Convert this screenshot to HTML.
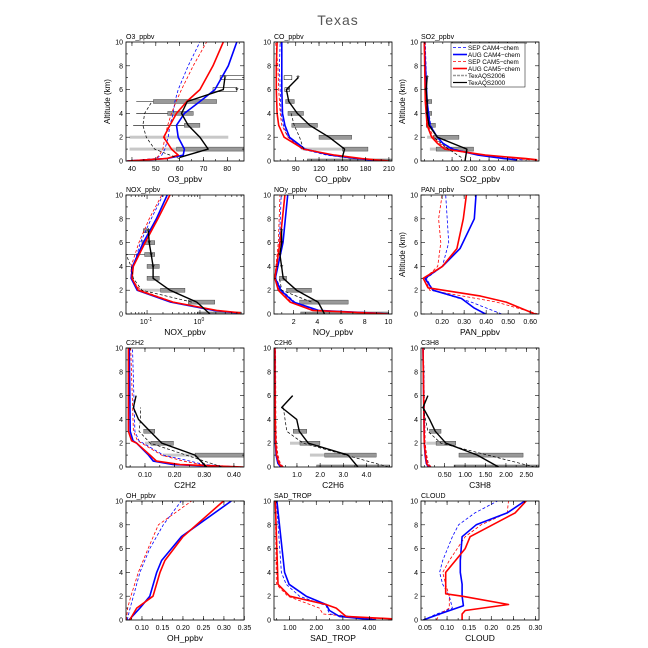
<!DOCTYPE html>
<html><head><meta charset="utf-8">
<style>
html,body{margin:0;padding:0;background:#fff;}
svg{display:block;font-family:"Liberation Sans",sans-serif;}
</style></head>
<body>
<svg id="chart" width="648" height="648" viewBox="0 0 648 648" xmlns="http://www.w3.org/2000/svg">
<text x="338" y="25" font-size="14" fill="#555" text-anchor="middle" letter-spacing="1">Texas</text>
</svg>
<script>
// ---------- data (altitude km vs mixing ratio) ----------
const o3Alt=[0,0.2,0.5,1,2,3,4,5,6,8,10];
const o3Sep4=[38,50,52.5,53.8,55.2,55.9,57.3,58,59.4,63.6,68.5];
const o3Sep5=[38,50,51.5,53,53.8,55,56.6,58.5,60.8,65.7,71.3];
const o3Aug4=[38,54.5,61.5,62,59.4,58.7,62,68.5,74.8,80.4,84];
const o3Aug5=[38,54.5,59.4,56.6,53.3,55.9,58.7,63,68.5,74,78.3];
const o3ObsAlt=[0.3,1,2,3,4,5,6,7];
const o3Obs2000=[60,72,68.5,63.6,60.8,63.2,78.3,79];
const o3Obs06Alt=[0.2,0.5,1,2,3,4,5];
const o3Obs2006=[60,55.9,49.5,46,44.6,45.3,48.4];

const coAlt=[0,0.2,0.5,1,2,3,4,6,8,10];
const coAug5=[210,175,140,100,75,68,66,65,65,66];
const coSep5=[205,170,135,100,80,72,70,68,67,64];
const coAug4=[200,170,135,102,82,76,73,72,72,72];
const coSep4=[200,165,130,98,80,74,71,70,69,70];
const coObsAlt=[0.3,1,2,3,4,5,6,7];
const coObs2000=[150,153,133,108,92,81,78,93];
const coObs06Alt=[1,2,3,4];
const coObs2006=[100,95,88,84];

const so2Alt=[0.1,0.2,0.5,1,1.5,2,3,5,10];
const so2Aug5=[5.6,5.0,2.8,0.6,0.2,-0.1,-0.35,-0.45,-0.5];
const so2Sep5=[5.2,4.5,2.7,0.8,0.3,0.0,-0.3,-0.4,-0.45];
const so2Aug4=[4.5,3.8,2.4,1.0,0.5,0.2,-0.2,-0.35,-0.5];
const so2Sep4=[4.8,4.0,2.6,1.1,0.5,0.2,-0.15,-0.35,-0.45];
const so2ObsAlt=[0,1,2,3,4,5,6,7];
const so2Obs2000=[1.7,1.8,0.2,-0.25,-0.35,-0.35,-0.4,-0.35];
const so2Obs06Alt=[0.3,1,2];
const so2Obs2006=[1.5,0.8,0.0];

const noxAlt=[0.1,0.3,1,2,3,4,6,8,10];
const noxAug5=[5.7,2.06,0.31,0.068,0.052,0.055,0.092,0.16,0.27];
const noxAug4=[5,1.8,0.28,0.065,0.05,0.053,0.085,0.15,0.24];
const noxSep4=[5.5,1.9,0.3,0.07,0.05,0.055,0.075,0.12,0.2];
const noxSep5=[6,2,0.32,0.075,0.05,0.05,0.07,0.11,0.19];
const noxObsAlt=[0,1,2,3,4,5,6,7];
const noxObs2000=[1.55,0.87,0.27,0.13,0.13,0.12,0.11,0.106];
const noxObs06Alt=[1,2,3,4,5];
const noxObs2006=[0.7,0.08,0.055,0.05,0.04];

const noyAlt=[0,0.1,0.3,1,2,3,6,10];
const noyAug5=[10,8,3.6,1.7,0.7,0.42,0.84,1.26];
const noyAug4=[10,8.3,4.1,2.0,0.9,0.45,1.1,1.5];
const noySep5=[10,7.5,3.5,1.8,0.8,0.4,0.7,0.85];
const noySep4=[10,7.8,3.8,2.1,1.0,0.5,0.8,0.95];
const noyObsAlt=[0,1,2,3,4,5,6,7];
const noyObs2000=[4.6,4.06,2.24,1.12,0.98,0.84,0.98,0.98];
const noyObs06Alt=[1,2,3];
const noyObs2006=[3.5,1.0,0.8];

const panAug4Alt=[0,0.5,1.3,2,3,4,5.5,8,10];
const panAug4=[0.397,0.346,0.288,0.158,0.122,0.201,0.281,0.346,0.354];
const panAug5Alt=[0,1,1.5,2.2,3,4,5.5,8,10];
const panAug5=[0.622,0.491,0.375,0.136,0.114,0.201,0.267,0.296,0.31];
const panSepAlt=[0,1,2,3,4,6,8,10];
const panSep4=[0.47,0.332,0.158,0.129,0.201,0.23,0.223,0.216];
const panSep5=[0.636,0.448,0.143,0.122,0.18,0.194,0.184,0.2];

const c2h2Alt=[0,0.2,0.5,1,2,2.2,3,10];
const c2h2Aug5=[0.431,0.218,0.139,0.117,0.072,0.055,0.044,0.044];
const c2h2Aug4=[0.397,0.196,0.128,0.112,0.072,0.06,0.05,0.047];
const c2h2Sep4=[0.42,0.3,0.252,0.162,0.094,0.08,0.066,0.058];
const c2h2Sep5=[0.409,0.29,0.229,0.156,0.089,0.075,0.061,0.052];
const c2h2ObsAlt=[0,1,2,3,4,5,6];
const c2h2Obs2000=[0.308,0.269,0.157,0.117,0.078,0.061,0.07];
const c2h2Obs06Alt=[0,2,3,4,5];
const c2h2Obs2006=[0.36,0.118,0.08,0.085,0.085];

const c2h6Alt=[0,0.3,1,2,4,10];
const c2h6Aug4=[0.3,0.18,0.1,0.07,0.06,0.05];
const c2h6Aug5=[0.35,0.22,0.12,0.08,0.06,0.05];
const c2h6Sep4=[0.38,0.25,0.15,0.1,0.08,0.07];
const c2h6Sep5=[0.42,0.28,0.18,0.12,0.09,0.08];
const c2h6ObsAlt=[0,1,2,3,4,5,6];
const c2h6Obs2000=[3.63,3.2,1.49,1.1,0.99,0.34,0.815];
const c2h6Obs06Alt=[0,2,3,5];
const c2h6Obs2006=[4.95,1.27,0.56,0.41];

const c3h8Alt=[0,0.3,1,2,10];
const c3h8Aug4=[0.1,0.05,0.02,0.0,-0.03];
const c3h8Aug5=[0.12,0.06,0.03,0.0,-0.03];
const c3h8Sep4=[0.15,0.08,0.05,0.02,-0.02];
const c3h8Sep5=[0.17,0.1,0.06,0.02,-0.02];
const c3h8ObsAlt=[0,1,2,3,4,5,6];
const c3h8Obs2000=[1.82,1.3,0.53,0.27,0.13,-0.03,0.09];
const c3h8Obs06Alt=[0,2,3,5];
const c3h8Obs2006=[2.7,0.41,0.09,-0.03];

const ohAlt=[0,1,2,4,5,7,10];
const ohAug5=[0.07,0.087,0.127,0.144,0.156,0.2,0.299];
const ohAug4=[0.068,0.095,0.119,0.136,0.148,0.196,0.318];
const ohSepAlt=[0,1,2,4,6,8,10];
const ohSep4=[0.064,0.071,0.079,0.095,0.119,0.152,0.196];
const ohSep5=[0.062,0.065,0.073,0.091,0.115,0.14,0.221];

const sadAug4Alt=[0,0.3,0.8,1.3,2,3,4,10];
const sadAug4=[4.25,2.87,2.5,2.37,1.62,0.98,0.81,0.52];
const sadAug5Alt=[0.1,0.3,1,1.3,2,3,10];
const sadAug5=[4.85,3.12,2.75,2.37,1.0,0.56,0.46];
const sadSep4Alt=[0.1,0.5,1.2,2,3,4,10];
const sadSep4=[4.12,2.5,2.37,1.37,0.87,0.69,0.5];
const sadSep5Alt=[0.1,0.5,1,2,3,10];
const sadSep5=[4.25,2.25,2.12,0.93,0.5,0.46];

const cldAug4Alt=[0,0.5,1.2,2,3,4,5,7,8,9,10];
const cldAug4=[0.046,0.083,0.137,0.134,0.134,0.13,0.13,0.134,0.166,0.236,0.276];
const cldAug5Alt=[0,0.5,0.8,1.3,2.0,2.2,4,5,6,7,9,10];
const cldAug5=[0.134,0.134,0.141,0.239,0.134,0.097,0.097,0.119,0.141,0.152,0.254,0.279];
const cldSepAlt=[0,0.5,1,2,3,4,5,7,8,9,10];
const cldSep4=[0.046,0.076,0.112,0.105,0.09,0.083,0.09,0.112,0.126,0.163,0.214];
const cldSep5=[0.076,0.083,0.105,0.105,0.097,0.09,0.105,0.141,0.177,0.236,0.239];

// bars: [alt, lo, hi]
const o3Dark=[[1,58.7,87],[3,62,68.5],[4,55,65.7],[5,49,75.5]];
const o3Light=[[1,39,58.7],[2,39,80.4]];
const o3White=[[6,74,84],[7,77,87]];
const o3Whisk=[[3,40.5,62],[4,41.8,55],[5,41.8,49]];
const coDark=[[0,105,214],[1,150,183],[2,120,162],[3,85,118],[4,80,100],[5,77,88]];
const coLight=[[1,99,150]];
const coWhite=[[6,76,82],[7,75,85]];
const so2Dark=[[1,0.14,2.16],[2,0.0,1.37],[3,-0.4,0.1],[4,-0.4,-0.1],[5,-0.4,-0.1]];
const so2Light=[[1,-0.2,0.14],[2,-0.35,0]];
const noxDark=[[0,0.9,6],[1,0.6,1.9],[2,0.18,0.52],[3,0.1,0.17],[4,0.1,0.17],[5,0.09,0.14],[6,0.08,0.14],[7,0.085,0.1]];
const noxLight=[[2,0.07,0.18]];
const noxWhisk=[[5,0.04,0.09]];
const noyDark=[[0,2.6,10],[1,2.5,6.6],[2,1.4,3.5],[3,0.8,1.4]];
const c2h2Dark=[[1,0.269,0.434],[2,0.12,0.196],[3,0.096,0.133]];
const c2h2Light=[[1,0.16,0.269],[2,0.1,0.12]];
const c2h6Dark=[[0,1.85,5],[1,2.2,4.42],[2,1.13,1.99],[3,0.84,1.42]];
const c2h6Light=[[1,1.56,2.2],[2,0.7,1.13]];
const c3h8Dark=[[0,0.73,2.8],[1,0.85,2.42],[2,0.29,0.77],[3,0.13,0.41]];
const c3h8Light=[[2,0.05,0.29]];
// stars: [alt, value]
const o3Stars=[[6,84],[7,79]];
const coStars=[[6,80],[7,93]];
const so2Stars=[[4,-0.35],[5,-0.35],[6,-0.4],[7,-0.35]];
const noxStars=[[4,0.13],[5,0.12],[6,0.11],[7,0.106]];
const noyStars=[[4,0.98],[5,0.84],[6,0.98],[7,0.98]];

// tick labels
const o3Ticks=[40,50,60,70,80];
const coTicks=[90,120,150,180,210];
const so2Ticks=[1,2,3,4];
const noyTicks=[2,4,6,8,10];
const panTicks=[0.2,0.3,0.4,0.5,0.6];
const c2h2Ticks=[0.1,0.2,0.3,0.4];
const c2h6Ticks=[1,2,3,4];
const c3h8Ticks=[0.5,1,1.5,2,2.5];
const ohTicks=[0.1,0.15,0.2,0.25,0.3,0.35];
const sadTicks=[1,2,3,4];
const cldTicks=[0.05,0.1,0.15,0.2,0.25,0.3];
const altTicks=[0,2,4,6,8,10];

// ---------- layout ----------
const COLX=[126,274,421], ROWY=[42,195,348,501], PW=118, PH=119;
const NS='http://www.w3.org/2000/svg';
const svg=document.getElementById('chart');
function mk(tag,attrs,parent){const e=document.createElementNS(NS,tag);for(const k in attrs)e.setAttribute(k,attrs[k]);(parent||svg).appendChild(e);return e;}

const styles={
 sep4:{stroke:'#0000ff',w:0.8,dash:'3,2'},
 aug4:{stroke:'#0000ff',w:1.6,dash:''},
 sep5:{stroke:'#ff0000',w:0.8,dash:'3,2'},
 aug5:{stroke:'#ff0000',w:1.6,dash:''},
 obs06:{stroke:'#000',w:0.7,dash:'3,2'},
 obs00:{stroke:'#000',w:1.4,dash:''}
};

const panels=[
 {id:'o3',t:'O3_ppbv',xl:'O3_ppbv',c:0,r:0,min:37.5,max:87,ticks:o3Ticks,fmt:v=>v,minor:5,ylab:true,
  series:[['sep4',o3Alt,o3Sep4],['sep5',o3Alt,o3Sep5],['aug4',o3Alt,o3Aug4],['aug5',o3Alt,o3Aug5],['obs06',o3Obs06Alt,o3Obs2006],['obs00',o3ObsAlt,o3Obs2000]],
  dark:o3Dark,light:o3Light,white:o3White,whisk:o3Whisk,stars:o3Stars},
 {id:'co',t:'CO_ppbv',xl:'CO_ppbv',c:1,r:0,min:62,max:214,ticks:coTicks,fmt:v=>v,minor:10,
  series:[['sep4',coAlt,coSep4],['sep5',coAlt,coSep5],['aug4',coAlt,coAug4],['aug5',coAlt,coAug5],['obs06',coObs06Alt,coObs2006],['obs00',coObsAlt,coObs2000]],
  dark:coDark,light:coLight,white:coWhite,stars:coStars},
 {id:'so2',t:'SO2_ppbv',xl:'SO2_ppbv',c:2,r:0,min:-0.68,max:5.7,ticks:so2Ticks,fmt:v=>v.toFixed(2),minor:0.5,ylab:true,legend:true,
  series:[['sep4',so2Alt,so2Sep4],['sep5',so2Alt,so2Sep5],['aug4',so2Alt,so2Aug4],['aug5',so2Alt,so2Aug5],['obs06',so2Obs06Alt,so2Obs2006],['obs00',so2ObsAlt,so2Obs2000]],
  dark:so2Dark,light:so2Light,stars:so2Stars},
 {id:'nox',t:'NOX_ppbv',xl:'NOX_ppbv',c:0,r:1,min:0.04,max:6.8,log:true,
  series:[['sep4',noxAlt,noxSep4],['sep5',noxAlt,noxSep5],['aug4',noxAlt,noxAug4],['aug5',noxAlt,noxAug5],['obs06',noxObs06Alt,noxObs2006],['obs00',noxObsAlt,noxObs2000]],
  dark:noxDark,light:noxLight,whisk:noxWhisk,stars:noxStars},
 {id:'noy',t:'NOy_ppbv',xl:'NOy_ppbv',c:1,r:1,min:0.34,max:10.3,ticks:noyTicks,fmt:v=>v,minor:1,
  series:[['sep4',noyAlt,noySep4],['sep5',noyAlt,noySep5],['aug4',noyAlt,noyAug4],['aug5',noyAlt,noyAug5],['obs06',noyObs06Alt,noyObs2006],['obs00',noyObsAlt,noyObs2000]],
  dark:noyDark,stars:noyStars},
 {id:'pan',t:'PAN_ppbv',xl:'PAN_ppbv',c:2,r:1,min:0.104,max:0.64,ticks:panTicks,fmt:v=>v.toFixed(2),minor:0.05,ylab:true,
  series:[['sep4',panSepAlt,panSep4],['sep5',panSepAlt,panSep5],['aug4',panAug4Alt,panAug4],['aug5',panAug5Alt,panAug5]]},
 {id:'c2h2',t:'C2H2',xl:'C2H2',c:0,r:2,min:0.036,max:0.434,ticks:c2h2Ticks,fmt:v=>v.toFixed(2),minor:0.05,
  series:[['sep4',c2h2Alt,c2h2Sep4],['sep5',c2h2Alt,c2h2Sep5],['aug4',c2h2Alt,c2h2Aug4],['aug5',c2h2Alt,c2h2Aug5],['obs06',c2h2Obs06Alt,c2h2Obs2006],['obs00',c2h2ObsAlt,c2h2Obs2000]],
  dark:c2h2Dark,light:c2h2Light},
 {id:'c2h6',t:'C2H6',xl:'C2H6',c:1,r:2,min:0.01,max:5.1,ticks:c2h6Ticks,fmt:v=>v.toFixed(1),minor:0.5,
  series:[['sep4',c2h6Alt,c2h6Sep4],['sep5',c2h6Alt,c2h6Sep5],['aug4',c2h6Alt,c2h6Aug4],['aug5',c2h6Alt,c2h6Aug5],['obs06',c2h6Obs06Alt,c2h6Obs2006],['obs00',c2h6ObsAlt,c2h6Obs2000]],
  dark:c2h6Dark,light:c2h6Light},
 {id:'c3h8',t:'C3H8',xl:'C3H8',c:2,r:2,min:-0.08,max:2.81,ticks:c3h8Ticks,fmt:v=>v.toFixed(2),minor:0.25,
  series:[['sep4',c3h8Alt,c3h8Sep4],['sep5',c3h8Alt,c3h8Sep5],['aug4',c3h8Alt,c3h8Aug4],['aug5',c3h8Alt,c3h8Aug5],['obs06',c3h8Obs06Alt,c3h8Obs2006],['obs00',c3h8ObsAlt,c3h8Obs2000]],
  dark:c3h8Dark,light:c3h8Light},
 {id:'oh',t:'OH_ppbv',xl:'OH_ppbv',c:0,r:3,min:0.061,max:0.349,ticks:ohTicks,fmt:v=>v.toFixed(2),minor:0.025,
  series:[['sep4',ohSepAlt,ohSep4],['sep5',ohSepAlt,ohSep5],['aug4',ohAlt,ohAug4],['aug5',ohAlt,ohAug5]]},
 {id:'sad',t:'SAD_TROP',xl:'SAD_TROP',c:1,r:3,min:0.41,max:4.85,ticks:sadTicks,fmt:v=>v.toFixed(2),minor:0.5,
  series:[['sep4',sadSep4Alt,sadSep4],['sep5',sadSep5Alt,sadSep5],['aug4',sadAug4Alt,sadAug4],['aug5',sadAug5Alt,sadAug5]]},
 {id:'cloud',t:'CLOUD',xl:'CLOUD',c:2,r:3,min:0.041,max:0.308,ticks:cldTicks,fmt:v=>v.toFixed(2),minor:0.025,
  series:[['sep4',cldSepAlt,cldSep4],['sep5',cldSepAlt,cldSep5],['aug4',cldAug4Alt,cldAug4],['aug5',cldAug5Alt,cldAug5]]}
];

panels.forEach(p=>{
 const x0=COLX[p.c], y0=ROWY[p.r];
 const xs=v=>{ if(p.log){const a=Math.log10(p.min),b=Math.log10(p.max);return x0+(Math.log10(v)-a)/(b-a)*PW;} return x0+(v-p.min)/(p.max-p.min)*PW; };
 const ys=a=>y0+PH-a/10*PH;
 const g=mk('g',{});
 
 
 const cid='clip-'+p.id;
 const cp=mk('clipPath',{id:cid},g); mk('rect',{x:x0,y:y0,width:PW,height:PH},cp);
 const plot=mk('g',{'clip-path':'url(#'+cid+')'},g);
 (p.light||[]).forEach(b=>{const r=mk('rect',{x:xs(b[1]),y:ys(b[0])-1.5,width:Math.max(0,xs(b[2])-xs(b[1])),height:3,fill:'#c8c8c8'},plot);
  
  });
 (p.whisk||[]).forEach(b=>{const l=mk('line',{x1:xs(b[1]),x2:xs(b[2]),y1:ys(b[0]),y2:ys(b[0]),stroke:'#000','stroke-width':0.6},plot);
  
  });
 (p.dark||[]).forEach(b=>{const r=mk('rect',{x:xs(b[1]),y:ys(b[0])-2,width:Math.max(0,xs(b[2])-xs(b[1])),height:4,fill:'#999','stroke':'#333','stroke-width':0.4},plot);
  
  });
 (p.white||[]).forEach(b=>{const r=mk('rect',{x:xs(b[1]),y:ys(b[0])-2,width:Math.max(0,xs(b[2])-xs(b[1])),height:4,fill:'#fff','stroke':'#000','stroke-width':0.5},plot);
  
  });
 p.series.forEach(s=>{
  const st=styles[s[0]];
  const pts=s[1].map((a,i)=>xs(s[2][i]).toFixed(1)+','+ys(a).toFixed(1)).join(' ');
  const pl=mk('polyline',{points:pts,fill:'none',stroke:st.stroke,'stroke-width':st.w,'stroke-dasharray':st.dash,'stroke-linejoin':'round'},plot);
  
  
 });
 (p.stars||[]).forEach(s=>{const t=mk('text',{x:xs(s[1]),y:ys(s[0])+4,'font-size':9,'text-anchor':'middle',fill:'#000'},plot);t.textContent='*';
  
  });
 mk('rect',{x:x0,y:y0,width:PW,height:PH,fill:'none',stroke:'#000','stroke-width':0.8},g);
 for(let a=0;a<=10;a++){
  const L=a%2===0?4:2;
  mk('line',{x1:x0,x2:x0+L,y1:ys(a),y2:ys(a),stroke:'#000','stroke-width':0.6},g);
  mk('line',{x1:x0+PW,x2:x0+PW-L,y1:ys(a),y2:ys(a),stroke:'#000','stroke-width':0.6},g);
 }
 altTicks.forEach(a=>{const t=mk('text',{x:x0-3,y:ys(a)+2.5,'font-size':7,'text-anchor':'end'},g);t.textContent=a;
  
  });
 const xt=(v,L)=>{const X=xs(v);mk('line',{x1:X,x2:X,y1:y0+PH,y2:y0+PH-L,stroke:'#000','stroke-width':0.6},g);mk('line',{x1:X,x2:X,y1:y0,y2:y0+L,stroke:'#000','stroke-width':0.6},g);};
 if(p.log){
  for(let d=-2;d<=0;d++)for(let m=1;m<10;m++){const v=m*Math.pow(10,d);if(v>=p.min&&v<=p.max)xt(v,m===1?4:2);}
  [[0.1,'-1'],[1,'0']].forEach(q=>{const t=mk('text',{x:xs(q[0])-1,y:y0+PH+10,'font-size':7,'text-anchor':'middle'},g);
   
   
   t.textContent='10';const sp=mk('tspan',{'font-size':5,dy:-3},t);sp.textContent=q[1];});
 } else {
  const st=p.minor;const start=Math.ceil(p.min/st-1e-9);
  for(let k=start;k*st<=p.max+1e-9;k++){xt(k*st,2);}
  p.ticks.forEach(v=>{xt(v,4);const t=mk('text',{x:xs(v),y:y0+PH+10,'font-size':7,'text-anchor':'middle'},g);t.textContent=p.fmt(v);
   
   });
 }
 const tt=mk('text',{x:x0,y:y0-3,'font-size':7},g);tt.textContent=p.t;
 
 
 const xl=mk('text',{x:x0+PW/2,y:y0+PH+21,'font-size':8.5,'text-anchor':'middle'},g);xl.textContent=p.xl;
 
 
 if(p.ylab){const yl=mk('text',{x:x0-16,y:y0+PH/2,'font-size':8,'text-anchor':'middle',transform:'rotate(-90 '+(x0-16)+' '+(y0+PH/2)+')'},g);yl.textContent='Altitude (km)';
  
  }
 if(p.legend){
  const lg=mk('g',{},g);
  
  
  mk('rect',{x:451,y:43,width:74,height:44,fill:'#fff',stroke:'#000','stroke-width':0.5},lg);
  const items=[['SEP CAM4−chem','#0000ff',0.8,'3,2'],['AUG CAM4−chem','#0000ff',1.6,''],['SEP CAM5−chem','#ff0000',0.8,'3,2'],['AUG CAM5−chem','#ff0000',1.6,''],['TexAQS2006','#999',1.4,'3,1'],['TexAQS2000','#000',1.2,'']];
  items.forEach((it,i)=>{const y=47.5+i*7;
   const e=mk('g',{},lg);
   
   
   mk('line',{x1:453,x2:467,y1:y,y2:y,stroke:it[1],'stroke-width':it[2],'stroke-dasharray':it[3]},e);
   const t=mk('text',{x:468,y:y+2.3,'font-size':6.3},e);t.textContent=it[0];});
 }
});
</script>
</body></html>
